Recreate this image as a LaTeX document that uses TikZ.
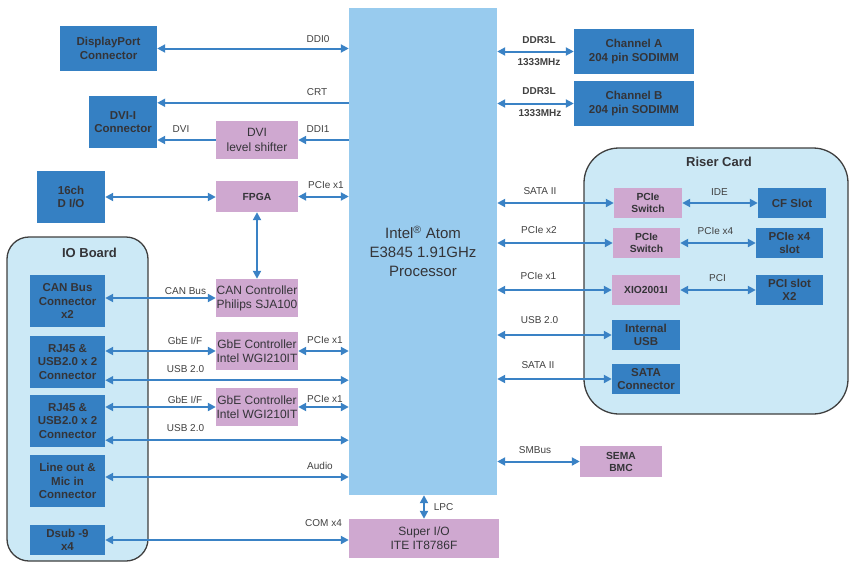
\documentclass[tikz,border=0pt]{standalone}
\usepackage{fontspec}
\setmainfont{Liberation Sans}
\usetikzlibrary{arrows.meta,calc}
\definecolor{dblue}{RGB}{53,128,195}
\definecolor{pinkc}{RGB}{207,168,208}
\definecolor{procc}{RGB}{152,203,238}
\definecolor{boardc}{RGB}{204,233,246}
\definecolor{borderc}{RGB}{63,63,63}
\definecolor{arrc}{RGB}{58,130,197}
\definecolor{txtc}{RGB}{52,52,56}
\definecolor{lblc}{RGB}{64,64,64}
\begin{document}
\begin{tikzpicture}[x=1pt,y=-1pt,
  sz/.style 2 args={minimum width=#1pt,minimum height=#2pt},
  dbox/.style={fill=dblue,text=txtc,font=\bfseries\fontsize{11.5}{13.3}\selectfont,align=center,inner sep=0pt},
  pbox/.style={fill=pinkc,text=txtc,font=\fontsize{12}{13.8}\selectfont,align=center,inner sep=0pt},
  pbbox/.style={pbox,font=\bfseries\fontsize{10.3}{12}\selectfont},
  lbl/.style={text=lblc,font=\fontsize{10}{12}\selectfont,inner sep=0pt},
  blbl/.style={lbl,font=\bfseries\fontsize{10}{12}\selectfont},
  ttl/.style={text=txtc,font=\bfseries\fontsize{13}{15}\selectfont,inner sep=0pt},
  board/.style={draw=borderc,fill=boardc,line width=1.3pt},
  tip/.tip={Triangle[length=8pt,width=8pt]},
  arr/.style={draw=arrc,line width=2pt,tip-tip},
  arrl/.style={draw=arrc,line width=2pt,tip-},
]
\useasboundingbox (0,0) rectangle (849,563);
% boards
\draw[board,rounded corners=22pt] (7,237) rectangle (148,561);
\draw[board,rounded corners=35pt] (584,148) rectangle (848,414);
\node[ttl] (iot) at (89.5,253) {IO Board};
\node[ttl] (rct) at (719,162) {Riser Card};
% processor
\node[fill=procc,sz={148}{487},inner sep=0pt,text=txtc,align=center,font=\fontsize{15}{19}\selectfont] (proc) at (423,251.5) {Intel\textsuperscript{\textregistered} Atom\\E3845 1.91GHz\\Processor};
\node[pbox,sz={150}{39},font=\fontsize{12}{14.3}\selectfont] (superio) at (424,538.5) {Super I/O\\ITE IT8786F};
\node[pbbox,sz={82}{31}] (sema) at (621,461.5) {SEMA\\BMC};
% memory
\node[dbox,sz={120}{45}] (cha) at (634,51.5) {Channel A\\204 pin SODIMM};
\node[dbox,sz={120}{45}] (chb) at (634,103.5) {Channel B\\204 pin SODIMM};
% left side
\node[dbox,sz={97}{45}] (dp) at (108.5,48.5) {DisplayPort\\Connector};
\node[dbox,sz={68}{52}] (dvii) at (123,122) {DVI-I\\Connector};
\node[pbox,sz={82}{38},font=\fontsize{12}{14.3}\selectfont] (dvils) at (257,140) {DVI\\level shifter};
\node[dbox,sz={68}{52}] (dio) at (71,197) {16ch\\D I/O};
\node[pbbox,sz={82}{31}] (fpga) at (257,196.5) {FPGA};
\node[dbox,sz={75}{52}] (can) at (67.5,301) {CAN Bus\\Connector\\x2};
\node[pbox,sz={82}{38}] (canc) at (257,298) {CAN Controller\\Philips SJA100};
\node[dbox,sz={75}{52}] (rj1) at (67.5,362) {RJ45 \&\\USB2.0 x 2\\Connector};
\node[pbox,sz={82}{38}] (gbe1) at (257,351) {GbE Controller\\Intel WGI210IT};
\node[dbox,sz={75}{52}] (rj2) at (67.5,421) {RJ45 \&\\USB2.0 x 2\\Connector};
\node[pbox,sz={82}{38}] (gbe2) at (257,407) {GbE Controller\\Intel WGI210IT};
\node[dbox,sz={75}{52}] (line) at (67.5,481) {Line out \&\\Mic in\\Connector};
\node[dbox,sz={75}{30}] (dsub) at (67.5,540) {Dsub -9\\x4};
% riser
\node[pbbox,sz={68}{30}] (sw1) at (648,203) {PCIe\\Switch};
\node[dbox,sz={68}{30}] (cf) at (792,203) {CF Slot};
\node[pbbox,sz={67}{30}] (sw2) at (646.5,243) {PCIe\\Switch};
\node[dbox,sz={67}{30}] (px4) at (789.5,243) {PCIe x4\\slot};
\node[pbbox,sz={68}{30}] (xio) at (646,290) {XIO2001I};
\node[dbox,sz={67}{30}] (pci) at (789.5,290) {PCI slot\\X2};
\node[dbox,sz={68}{30}] (iusb) at (646,335) {Internal\\USB};
\node[dbox,sz={68}{30}] (sata) at (646,379) {SATA\\Connector};
% helper coordinates
\coordinate (crt) at ($(dvii.north east)+(0,7)$);
\coordinate (usb1) at ($(rj1.south east)+(0,-8)$);
\coordinate (usb2) at ($(rj2.south east)+(0,-7)$);
\coordinate (aud) at ($(line.east)+(0,-4)$);
% connectors left
\draw[arr] (dp.east) -- (dp.east -| proc.west);
\draw[arrl] (crt) -- (crt -| proc.west);
\draw[arrl] (dvils.east) -- (dvils.east -| proc.west);
\draw[arrl] (dvils.west -| dvii.east) -- (dvils.west);
\draw[arr] (dio.east) -- (dio.east -| fpga.west);
\draw[arr] (fpga.east) -- (fpga.east -| proc.west);
\draw[arr] (fpga.south) -- (canc.north);
\draw[arr] (canc.west -| can.east) -- (canc.west);
\draw[arr] (gbe1.west -| rj1.east) -- (gbe1.west);
\draw[arr] (gbe1.east) -- (gbe1.east -| proc.west);
\draw[arr] (usb1) -- (usb1 -| proc.west);
\draw[arr] (gbe2.west -| rj2.east) -- (gbe2.west);
\draw[arr] (gbe2.east) -- (gbe2.east -| proc.west);
\draw[arr] (usb2) -- (usb2 -| proc.west);
\draw[arr] (aud) -- (aud -| proc.west);
\draw[arr] (dsub.east) -- (dsub.east -| superio.west);
\draw[arr] (superio.north) -- (superio.north |- proc.south);
\draw[arr] (sema.west) -- (sema.west -| proc.east);
% memory connectors
\draw[arr] (cha.west -| proc.east) -- (cha.west);
\draw[arr] (chb.west -| proc.east) -- (chb.west);
% riser connectors
\draw[arr] (sw1.west -| proc.east) -- (sw1.west);
\draw[arr] (sw1.east) -- (cf.west);
\draw[arr] (sw2.west -| proc.east) -- (sw2.west);
\draw[arr] (sw2.east) -- (px4.west);
\draw[arr] (xio.west -| proc.east) -- (xio.west);
\draw[arr] (xio.east) -- (pci.west);
\draw[arr] (iusb.west -| proc.east) -- (iusb.west);
\draw[arr] (sata.west -| proc.east) -- (sata.west);
% labels
\node[lbl] (l1) at (318,39) {DDI0};
\node[lbl] (l2) at (317,92) {CRT};
\node[lbl] (l3) at (318,129) {DDI1};
\node[lbl] (l4) at (181,129) {DVI};
\node[lbl] (l5) at (326,185) {PCIe x1};
\node[lbl] (l6) at (185.5,291) {CAN Bus};
\node[lbl] (l7) at (185,340.5) {GbE I/F};
\node[lbl] (l8) at (325,340.5) {PCIe x1};
\node[lbl] (l9) at (185.5,369.5) {USB 2.0};
\node[lbl] (l10) at (185,399.5) {GbE I/F};
\node[lbl] (l11) at (325,399.5) {PCIe x1};
\node[lbl] (l12) at (185.5,428) {USB 2.0};
\node[lbl] (l13) at (320,466) {Audio};
\node[lbl] (l14) at (323.5,523) {COM x4};
\node[lbl] (l15) at (443.5,507) {LPC};
\node[lbl] (l16) at (535,450) {SMBus};
\node[blbl] (m1) at (539,40) {DDR3L};
\node[blbl] (m2) at (539,62) {1333MHz};
\node[blbl] (m3) at (539,91) {DDR3L};
\node[blbl] (m4) at (540,113) {1333MHz};
\node[lbl] (r1) at (540,191.5) {SATA II};
\node[lbl] (r2) at (719.5,192.5) {IDE};
\node[lbl] (r3) at (539,230.5) {PCIe x2};
\node[lbl] (r4) at (715.5,231) {PCIe x4};
\node[lbl] (r5) at (538.5,276.5) {PCIe x1};
\node[lbl] (r6) at (717.5,278) {PCI};
\node[lbl] (r7) at (539.5,320.5) {USB 2.0};
\node[lbl] (r8) at (538,365) {SATA II};
\end{tikzpicture}
\end{document}
